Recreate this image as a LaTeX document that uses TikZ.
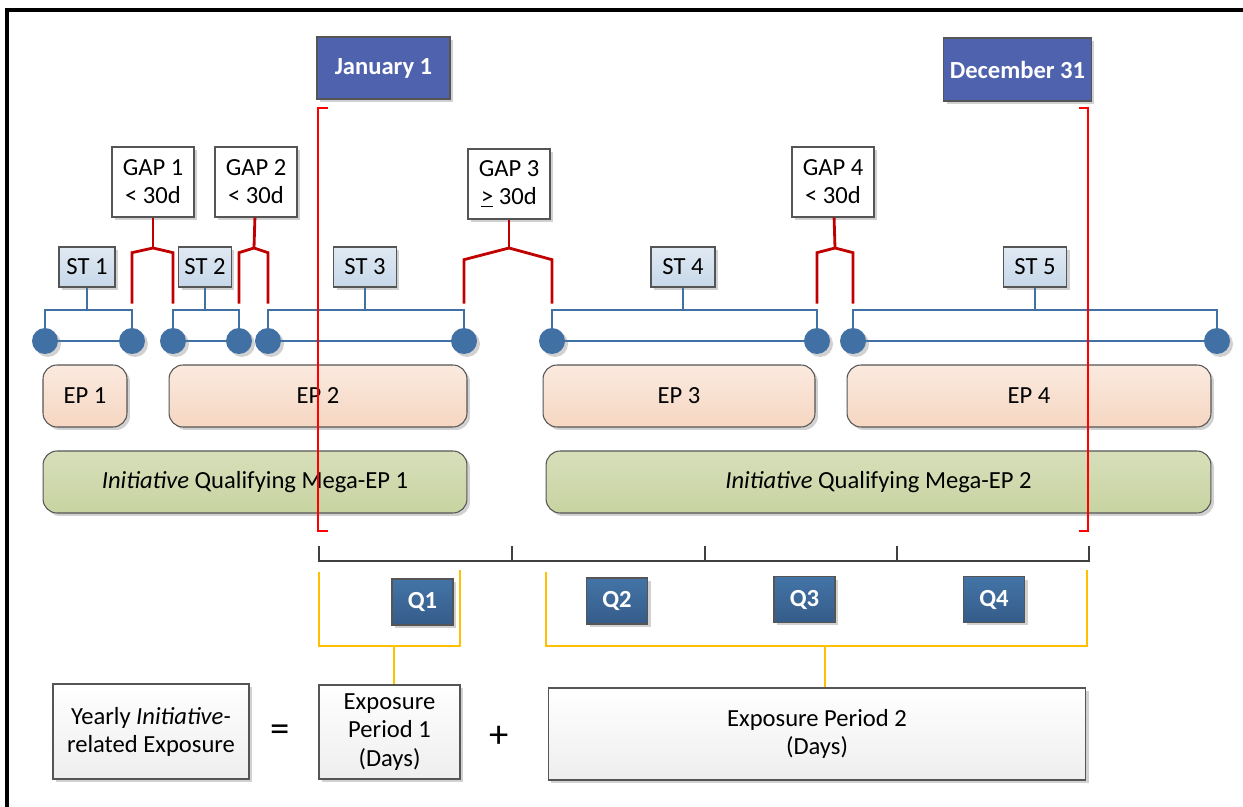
\documentclass[tikz,border=0pt]{standalone}
\usepackage{fontspec}
\setmainfont{Carlito}
\usepackage{tikz}
\usetikzlibrary{shadows}

\definecolor{calblue}{RGB}{79,98,174}
\definecolor{qtop}{RGB}{67,116,167}
\definecolor{qbot}{RGB}{53,92,137}
\definecolor{dotblue}{RGB}{64,112,164}
\definecolor{sttop}{RGB}{224,233,243}
\definecolor{stbot}{RGB}{199,216,233}
\definecolor{eptop}{RGB}{251,234,223}
\definecolor{epbot}{RGB}{245,214,193}
\definecolor{megatop}{RGB}{215,223,186}
\definecolor{megabot}{RGB}{200,211,161}
\definecolor{whitebot}{RGB}{238,238,238}
\definecolor{boxgray}{RGB}{85,85,85}
\definecolor{gapred}{RGB}{192,0,0}
\definecolor{calred}{RGB}{255,0,0}
\definecolor{qyellow}{RGB}{255,192,0}
\definecolor{axisgray}{RGB}{64,64,64}

\begin{document}
\begin{tikzpicture}[x=0.02cm,y=-0.02cm,font=\fontsize{14}{16}\selectfont,
  boxshadow/.style={drop shadow={shadow xshift=0.06cm,shadow yshift=-0.06cm,opacity=0.18,fill=black}},
  calbox/.style={draw=boxgray,line width=0.6pt,fill=calblue,text=white,font=\fontsize{14}{16}\selectfont\bfseries,boxshadow},
  qbox/.style={draw=boxgray,line width=0.6pt,top color=qtop,bottom color=qbot,text=white,font=\fontsize{14}{16}\selectfont\bfseries,minimum width=1.22cm,minimum height=0.92cm,boxshadow},
  gapbox/.style={draw=boxgray,line width=0.6pt,fill=white,align=center,minimum width=1.64cm,minimum height=1.4cm,boxshadow},
  stbox/.style={draw=boxgray,line width=0.6pt,top color=sttop,bottom color=stbot,minimum height=0.8cm,boxshadow},
  epbox/.style={draw=boxgray,line width=0.6pt,rounded corners=0.28cm,top color=eptop,bottom color=epbot,minimum height=1.24cm,boxshadow},
  megabox/.style={draw=boxgray,line width=0.6pt,rounded corners=0.28cm,top color=megatop,bottom color=megabot,minimum height=1.24cm,boxshadow},
  sumbox/.style={draw=boxgray,line width=0.6pt,top color=white,bottom color=whitebot,align=center,boxshadow},
  dot/.style={circle,fill=dotblue,minimum size=0.52cm,inner sep=0pt,boxshadow},
  stline/.style={draw=dotblue,line width=1.3pt},
  gapline/.style={draw=gapred,line width=1.6pt},
  calline/.style={draw=calred,line width=1.4pt},
  qline/.style={draw=qyellow,line width=1.6pt},
  axisline/.style={draw=axisgray,line width=1.5pt}]
\useasboundingbox (0,0) rectangle (1243,807);

\draw[line width=0.07cm] (7,807) -- (7,10) -- (1243,10);

\node[calbox,minimum width=2.66cm,minimum height=1.24cm] (jan) at (383.5,68) {January 1};
\node[calbox,minimum width=2.86cm,minimum height=1.26cm] (dec) at (1017.5,69.5) {December 31};

\node[gapbox] (g1) at (153,182) {GAP 1\\< 30d};
\node[gapbox] (g2) at (256,182) {GAP 2\\< 30d};
\node[gapbox] (g3) at (509,184) {GAP 3\\\underline{>} 30d};
\node[gapbox] (g4) at (833,182) {GAP 4\\< 30d};

\node[stbox,minimum width=1.12cm] (st1) at (87,267) {ST 1};
\node[stbox,minimum width=1.0cm] (st2) at (205,267) {ST 2};
\node[stbox,minimum width=1.26cm] (st3) at (365,267) {ST 3};
\node[stbox,minimum width=1.28cm] (st4) at (683,267) {ST 4};
\node[stbox,minimum width=1.26cm] (st5) at (1035,267) {ST 5};

\node[dot] (d1) at (45,341) {};
\node[dot] (d2) at (132,341) {};
\node[dot] (d3) at (173,341) {};
\node[dot] (d4) at (239,341) {};
\node[dot] (d5) at (268,341) {};
\node[dot] (d6) at (464,341) {};
\node[dot] (d7) at (552,341) {};
\node[dot] (d8) at (817,341) {};
\node[dot] (d9) at (853,341) {};
\node[dot] (d10) at (1217,341) {};

\draw[stline] (d1) -- (d2);
\draw[stline] (d3) -- (d4);
\draw[stline] (d5) -- (d6);
\draw[stline] (d7) -- (d8);
\draw[stline] (d9) -- (d10);
\draw[stline] (d1.north) -- ++(0,-18) coordinate (b1) -| (d2.north);
\draw[stline] (d3.north) -- ++(0,-18) coordinate (b2) -| (d4.north);
\draw[stline] (d5.north) -- ++(0,-18) coordinate (b3) -| (d6.north);
\draw[stline] (d7.north) -- ++(0,-18) coordinate (b4) -| (d8.north);
\draw[stline] (d9.north) -- ++(0,-18) coordinate (b5) -| (d10.north);
\draw[stline] (st1) -- (st1 |- b1);
\draw[stline] (st2) -- (st2 |- b2);
\draw[stline] (st3) -- (st3 |- b3);
\draw[stline] (st4) -- (st4 |- b4);
\draw[stline] (st5) -- (st5 |- b5);

\coordinate (j1) at (153,248);
\coordinate (j2) at (254,248);
\coordinate (j3) at (509,248);
\coordinate (j4) at (835,248);
\draw[gapline] (g1) -- (j1);
\draw[gapline] (g2) -- (j2);
\draw[gapline] (g3) -- (j3);
\draw[gapline] (g4) -- (j4);
\draw[gapline] ([yshift=0.48cm]d2.north) -- ([yshift=1.5cm]d2.north) -- (j1) -- ([yshift=1.5cm]d3.north) -- ([yshift=0.48cm]d3.north);
\draw[gapline] ([yshift=0.48cm]d4.north) -- ([yshift=1.5cm]d4.north) -- (j2) -- ([yshift=1.5cm]d5.north) -- ([yshift=0.48cm]d5.north);
\draw[gapline] ([yshift=0.48cm]d6.north) -- ([yshift=1.36cm]d6.north) -- (j3) -- ([yshift=1.36cm]d7.north) -- ([yshift=0.48cm]d7.north);
\draw[gapline] ([yshift=0.48cm]d8.north) -- ([yshift=1.5cm]d8.north) -- (j4) -- ([yshift=1.5cm]d9.north) -- ([yshift=0.48cm]d9.north);

\node[epbox,minimum width=1.68cm] (ep1) at (85,396) {EP 1};
\node[epbox,minimum width=5.96cm] (ep2) at (318,396) {EP 2};
\node[epbox,minimum width=5.44cm] (ep3) at (679,396) {EP 3};
\node[epbox,minimum width=7.28cm] (ep4) at (1029,396) {EP 4};
\node[megabox,minimum width=8.48cm] (m1) at (255,482) {\textit{Initiative} Qualifying Mega-EP 1};
\node[megabox,minimum width=13.3cm] (m2) at (878.5,482) {\textit{Initiative} Qualifying Mega-EP 2};

\draw[calline] (328,108) -- (318,108) -- (318,531) -- (328,531);
\draw[calline] (1079,108) -- (1088,108) -- (1088,531) -- (1079,531);

\draw[axisline] (319,546) -- (319,561) -- (1089,561) -- (1089,546);
\draw[axisline] (512,561) -- (512,546);
\draw[axisline] (705,561) -- (705,546);
\draw[axisline] (897,561) -- (897,546);

\node[qbox] (q1) at (422.5,602) {Q1};
\node[qbox] (q2) at (617,601) {Q2};
\node[qbox] (q3) at (804.5,599.5) {Q3};
\node[qbox] (q4) at (994,599.5) {Q4};

\node[sumbox,minimum width=3.92cm,minimum height=1.9cm] (yearly) at (151,731.5) {Yearly \textit{Initiative-}\\related Exposure};
\node[font=\fontsize{22}{22}\selectfont] (eq) at (280,733) {=};
\node[sumbox,minimum width=2.82cm,minimum height=1.88cm] (exp1) at (389.5,732) {Exposure\\Period 1\\(Days)};
\node[font=\fontsize{22}{22}\selectfont] (plus) at (499,737) {+};
\node[sumbox,minimum width=10.76cm,minimum height=1.84cm] (exp2) at (817,734) {Exposure Period 2\\(Days)};

\draw[qline] (319,572) -- (319,646) -- (460,646) -- (460,570);
\draw[qline] (546,572) -- (546,646) -- (1087,646) -- (1087,570);
\coordinate (y1) at (394,646);
\coordinate (y2) at (825,646);
\draw[qline] (y1) -- (y1 |- exp1.north);
\draw[qline] (y2) -- (y2 |- exp2.north);
\end{tikzpicture}
\end{document}
